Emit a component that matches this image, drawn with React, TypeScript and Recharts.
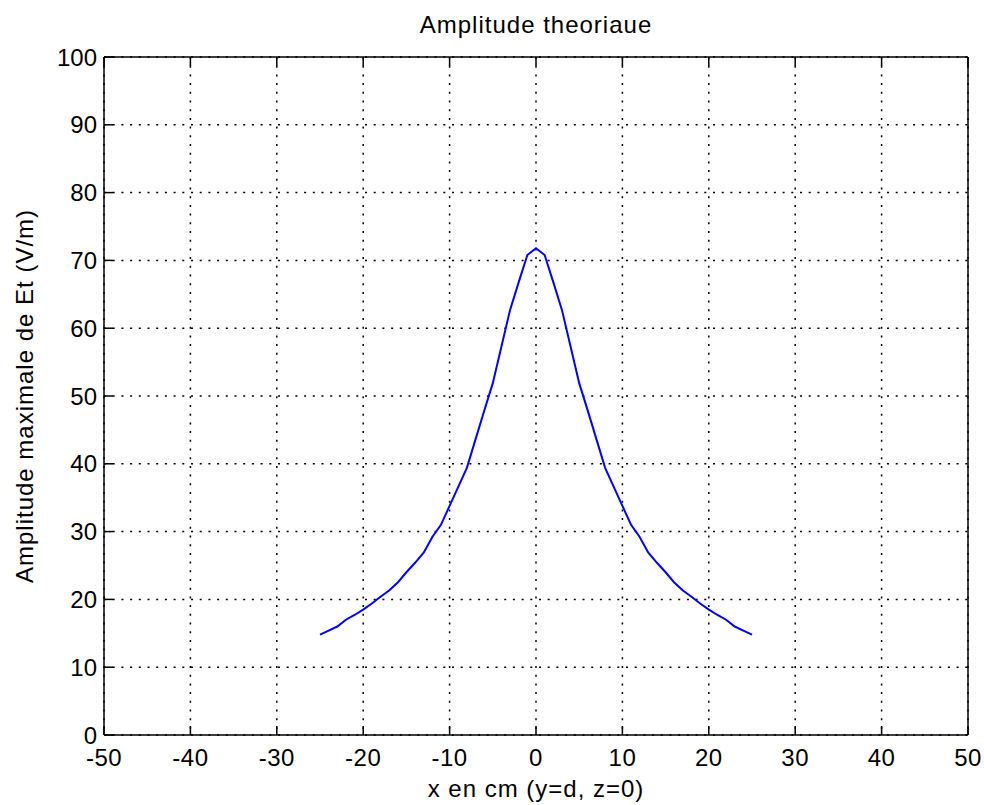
import React from 'react';
import { LineChart, Line, XAxis, YAxis, CartesianGrid, Label } from 'recharts';

const xPositions = [
  -25, -24, -23, -22, -21, -20, -19, -18, -17, -16, -15, -14, -13, -12, -11, -10, -9, -8, -7, -6, -5, -4, -3, -2, -1,
  0,
  1, 2, 3, 4, 5, 6, 7, 8, 9, 10, 11, 12, 13, 14, 15, 16, 17, 18, 19, 20, 21, 22, 23, 24, 25,
];
const amplitude = [
  14.8, 15.4, 16.0, 17.0, 17.7, 18.5, 19.4, 20.4, 21.3, 22.5, 24.0, 25.4, 26.9, 29.2, 31.0, 33.8, 36.6, 39.4, 43.6, 47.8, 51.9, 57.3, 62.7, 66.8, 70.8,
  71.8,
  70.8, 66.8, 62.7, 57.3, 51.9, 47.8, 43.6, 39.4, 36.6, 33.8, 31.0, 29.2, 26.9, 25.4, 24.0, 22.5, 21.3, 20.4, 19.4, 18.5, 17.7, 17.0, 16.0, 15.4, 14.8,
];
const xTicks = [-50, -40, -30, -20, -10, 0, 10, 20, 30, 40, 50];
const yTicks = [0, 10, 20, 30, 40, 50, 60, 70, 80, 90, 100];

const titleText = 'Amplitude theoriaue';
const xLabelText = 'x en cm (y=d, z=0)';
const yLabelText = 'Amplitude maximale de Et (V/m)';

const data = xPositions.map((x, i) => ({ x, y: amplitude[i] }));

const FONT = 'Liberation Sans, Arial, Helvetica, sans-serif';
const FS = 24;
const TICK_LEN = 9;
const labelStyle = { fontFamily: FONT, fontSize: FS, fill: '#000', letterSpacing: 1 };

const BottomTick = (props: any) => {
  const { x, y, payload } = props;
  return (
    <g>
      <line x1={x} y1={y} x2={x} y2={y - TICK_LEN} stroke="#000" strokeWidth={1.5} />
      <text x={x} y={y + 31} textAnchor="middle" fontFamily={FONT} fontSize={FS} fill="#000" letterSpacing={0.5}>
        {payload.value}
      </text>
    </g>
  );
};

const TopTick = (props: any) => {
  const { x, y } = props;
  return <line x1={x} y1={y} x2={x} y2={y + TICK_LEN} stroke="#000" strokeWidth={1.5} />;
};

const LeftTick = (props: any) => {
  const { x, y, payload } = props;
  return (
    <g>
      <line x1={x} y1={y} x2={x + TICK_LEN} y2={y} stroke="#000" strokeWidth={1.5} />
      <text x={x - 7} y={y + 8.5} textAnchor="end" fontFamily={FONT} fontSize={FS} fill="#000">
        {payload.value}
      </text>
    </g>
  );
};

const RightTick = (props: any) => {
  const { x, y } = props;
  return <line x1={x} y1={y} x2={x - TICK_LEN} y2={y} stroke="#000" strokeWidth={1.5} />;
};

export default function App() {
  return (
    <div style={{ position: 'absolute', left: 0, top: 0, width: 984, height: 805, background: '#fff' }}>
      <LineChart width={984} height={805} data={data} margin={{ top: 56, right: 15, bottom: 0, left: 0 }}>
        <CartesianGrid stroke="#000" strokeDasharray="2 6.7" strokeWidth={1.5} />
        <XAxis
          dataKey="x"
          type="number"
          domain={[-50, 50]}
          ticks={xTicks}
          interval={0}
          height={70}
          tickSize={0}
          tickMargin={0}
          tickLine={false}
          axisLine={{ stroke: '#000', strokeWidth: 1.5 }}
          tick={<BottomTick />}
        >
          <Label value={xLabelText} position="insideBottom" offset={8} style={labelStyle} />
        </XAxis>
        <XAxis
          xAxisId="top"
          orientation="top"
          dataKey="x"
          type="number"
          domain={[-50, 50]}
          ticks={xTicks}
          interval={0}
          height={1}
          tickSize={0}
          tickMargin={0}
          tickLine={false}
          axisLine={{ stroke: '#000', strokeWidth: 1.5 }}
          tick={<TopTick />}
        >
          <Label value={titleText} position="top" offset={23} style={labelStyle} />
        </XAxis>
        <YAxis
          type="number"
          domain={[0, 100]}
          ticks={yTicks}
          interval={0}
          width={104}
          tickSize={0}
          tickMargin={0}
          tickLine={false}
          axisLine={{ stroke: '#000', strokeWidth: 1.5 }}
          tick={<LeftTick />}
        >
          <Label
            value={yLabelText}
            angle={-90}
            position="insideLeft"
            offset={24}
            style={{ ...labelStyle, textAnchor: 'middle' }}
          />
        </YAxis>
        <YAxis
          yAxisId="right"
          orientation="right"
          type="number"
          domain={[0, 100]}
          ticks={yTicks}
          interval={0}
          width={1}
          tickSize={0}
          tickMargin={0}
          tickLine={false}
          axisLine={{ stroke: '#000', strokeWidth: 1.5 }}
          tick={<RightTick />}
        />
        <Line
          type="linear"
          dataKey="y"
          stroke="#0000FF"
          strokeWidth={2}
          dot={false}
          isAnimationActive={false}
        />
      </LineChart>
    </div>
  );
}
